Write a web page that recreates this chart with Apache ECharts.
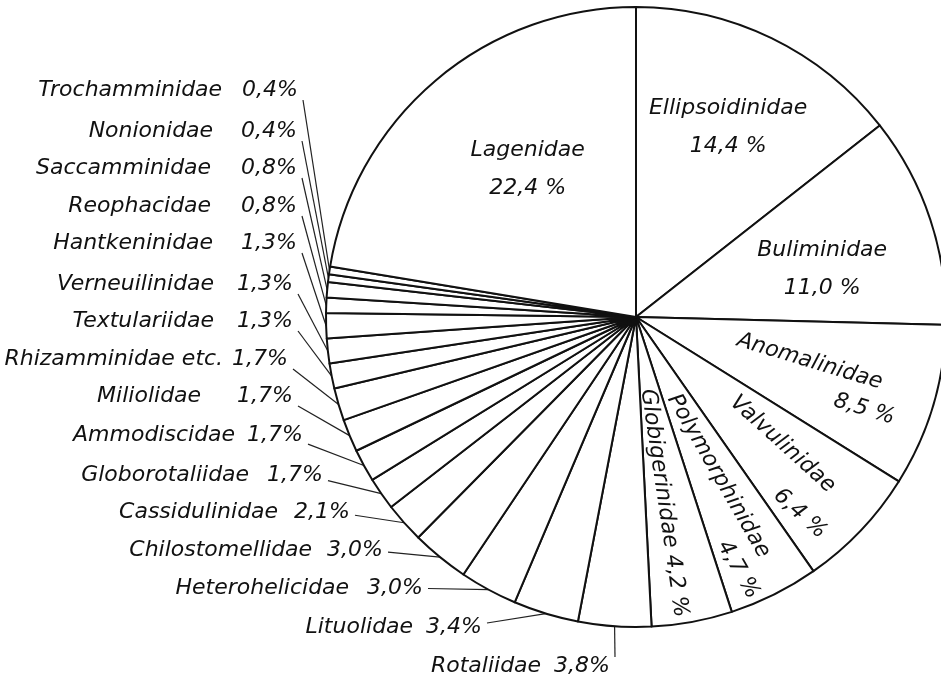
<!DOCTYPE html>
<html>
<head>
<meta charset="utf-8">
<script src="https://cdn.jsdelivr.net/npm/echarts@6/dist/echarts.min.js"></script>
<style>
  html, body { margin: 0; padding: 0; background: #fff; }
  #chart { width: 941px; height: 679px; }
</style>
</head>
<body>
<div id="chart"></div>
<script>
// families, clockwise from 12 o'clock
var families = ['Ellipsoidinidae', 'Buliminidae', 'Anomalinidae', 'Valvulinidae', 'Polymorphinidae',
  'Globigerinidae', 'Rotaliidae', 'Lituolidae', 'Heterohelicidae', 'Chilostomellidae', 'Cassidulinidae',
  'Globorotaliidae', 'Ammodiscidae', 'Miliolidae', 'Rhizamminidae etc.', 'Textulariidae', 'Verneuilinidae',
  'Hantkeninidae', 'Reophacidae', 'Saccamminidae', 'Nonionidae', 'Trochamminidae', 'Lagenidae'];
var shares = [14.4, 11.0, 8.5, 6.4, 4.7, 4.2, 3.8, 3.4, 3.0, 3.0, 2.1, 1.7, 1.7, 1.7, 1.7, 1.3, 1.3, 1.3,
  0.8, 0.8, 0.4, 0.4, 22.4];

var cx = 636, cy = 317, R = 310, START = 90;
var font = { fontFamily: 'DejaVu Sans', fontStyle: 'italic', fontSize: 22, color: '#111' };

// inside labels: radius fraction, angle tweak, rotation tweak (null = horizontal), line height, tail pad
var insideSpot = {
  'Lagenidae': { f: 0.59, d: -4, r: null, lh: 38, pad: 0 },
  'Ellipsoidinidae': { f: 0.68, d: 0, r: null, lh: 38, pad: 0 },
  'Buliminidae': { f: 0.62, d: -4, r: null, lh: 38, pad: 0 },
  'Anomalinidae': { f: 0.614, d: -2.3, r: 0, lh: 30, pad: 22 },
  'Valvulinidae': { f: 0.667, d: -3, r: 1.5, lh: 40, pad: 24 },
  'Polymorphinidae': { f: 0.63, d: -3.2, r: 3.5, lh: 30, pad: 30 },
  'Globigerinidae': { f: 0.607, d: -1.9, r: -2, lh: 30, pad: 0 }
};
// outside labels: right end, middle, gap before the percentage
var outsideSpot = {
  'Trochamminidae': [298, 90, 20], 'Nonionidae': [297, 131, 28], 'Saccamminidae': [297, 168, 30],
  'Reophacidae': [297, 206, 30], 'Hantkeninidae': [297, 243, 28], 'Verneuilinidae': [293, 284, 23],
  'Textulariidae': [293, 321, 23], 'Rhizamminidae etc.': [288, 359, 9], 'Miliolidae': [293, 396, 36],
  'Ammodiscidae': [303, 435, 12], 'Globorotaliidae': [323, 475, 18], 'Cassidulinidae': [350, 512, 16],
  'Chilostomellidae': [383, 550, 15], 'Heterohelicidae': [423, 588, 18], 'Lituolidae': [482, 627, 13],
  'Rotaliidae': [610, 666, 13]
};

var total = shares.reduce(function (a, b) { return a + b; }, 0);
function midAngle(i) {
  var before = 0;
  for (var j = 0; j < i; j++) before += shares[j];
  return START - (before + shares[i] / 2) / total * 360;
}
function fmt(v) { return v.toFixed(1).replace('.', ','); }
function style(extra) { return Object.assign({}, font, extra || {}); }

var pieData = families.map(function (name, i) {
  var spot = insideSpot[name];
  var pct = fmt(shares[i]);
  var text, rich;
  if (!spot) {
    rich = { n: style(), p: style({ padding: [0, 0, 0, outsideSpot[name][2]] }) };
    text = '{n|' + name + '}{p|' + pct + '%}';
  } else if (name === 'Globigerinidae') {
    rich = { n: style() };
    text = '{n|' + name + ' ' + pct + ' %}';
  } else if (spot.r !== null) {
    rich = { n: style({ padding: [0, spot.pad, 0, 0] }), p: style({ align: 'right' }) };
    text = '{n|' + name + '}\n{p|' + pct + ' %}';
  } else {
    rich = { n: style(), p: style() };
    text = '{n|' + name + '}\n{p|' + pct + ' %}';
  }
  return {
    name: name,
    value: shares[i],
    label: {
      position: spot ? 'inside' : 'outside',
      formatter: text,
      rich: rich,
      lineHeight: spot ? spot.lh : 26
    },
    labelLine: { show: !spot }
  };
});

var chart = echarts.init(document.getElementById('chart'));
chart.setOption({
  backgroundColor: '#fff',
  animation: false,
  series: [{
    type: 'pie',
    center: [cx, cy],
    radius: R,
    startAngle: START,
    clockwise: true,
    avoidLabelOverlap: false,
    silent: true,
    itemStyle: { color: '#fff', borderColor: '#111', borderWidth: 2 },
    label: Object.assign({}, font),
    labelLine: { lineStyle: { color: '#222', width: 1.2 } },
    labelLayout: function (params) {
      var i = params.dataIndex;
      var name = families[i];
      var m = midAngle(i);
      var spot = insideSpot[name];
      if (spot) {
        var b = (m + spot.d) * Math.PI / 180;
        return {
          x: cx + R * spot.f * Math.cos(b),
          y: cy - R * spot.f * Math.sin(b),
          align: 'center',
          verticalAlign: 'middle',
          rotate: spot.r === null ? 0 : m + spot.r
        };
      }
      var o = outsideSpot[name];
      var a = m * Math.PI / 180;
      var ax = cx + R * Math.cos(a), ay = cy - R * Math.sin(a);
      var sx = o[0] + 5;
      var sy = o[1] + Math.max(-9, Math.min(10, (ay - o[1]) * 0.3));
      return {
        x: o[0],
        y: o[1],
        align: 'right',
        verticalAlign: 'middle',
        labelLinePoints: [[ax, ay], [sx, sy], [sx, sy]]
      };
    },
    data: pieData
  }]
});
</script>
</body>
</html>
